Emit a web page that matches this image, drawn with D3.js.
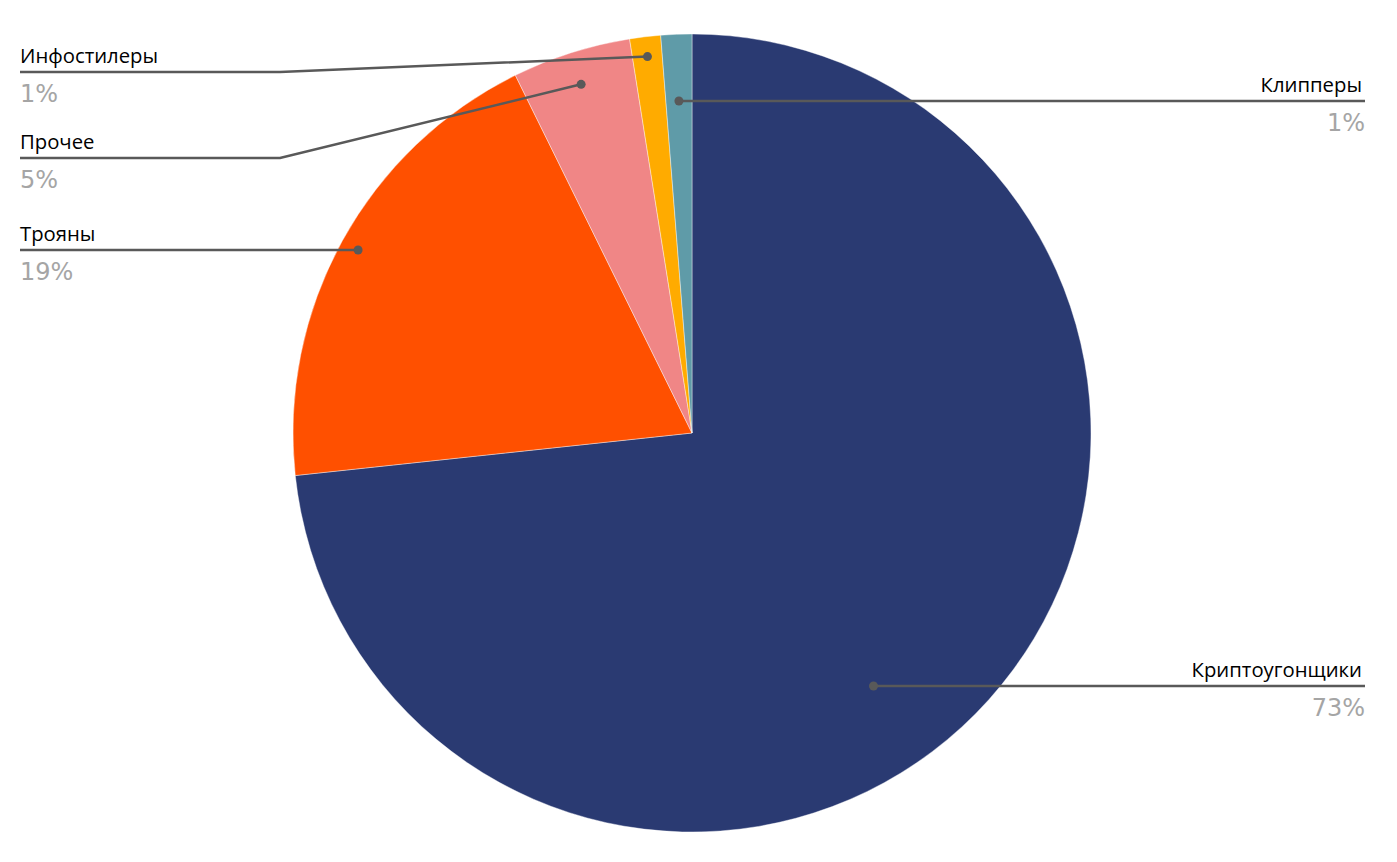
<!DOCTYPE html>
<html><head><meta charset="utf-8">
<script src="https://cdn.jsdelivr.net/npm/d3@7"></script>
<style>body{margin:0;background:#fff}svg{display:block}</style>
</head><body><svg id="c" width="1397" height="862"></svg>
<script>
const categories = ["Криптоугонщики","Трояны","Прочее","Инфостилеры","Клипперы"];
const values = [73.3, 19.4, 4.8, 1.25, 1.25];
const colors = ["#2a3a72","#ff5000","#f08686","#ffab00","#5f9ba8"];
// label layout: side, line y, elbow x, dot radius fraction, dot angle fraction within slice
const labelSide = ["right","left","left","left","right"];
const labelLineY = [686, 250, 158, 72, 101];
const labelElbowX = [null, null, 280, 280, null];
const dotRFrac = [0.0, 0.955, 0.917, 0.95, 0.835];
const dotAngFrac = [0.547, 0.5, 0.5, 0.5, 0.5];

const svg = d3.select("#c");
const cx = 692, cy = 433, R = 399;
const g = svg.append("g").attr("transform", `translate(${cx},${cy})`);
const total = d3.sum(values);
const pie = d3.pie().sort(null).value(d => d.v);
const data = categories.map((c,i)=>({c, v: values[i], i}));
const arcs = pie(data);
const arc = d3.arc().innerRadius(0).outerRadius(R);
g.selectAll("path").data(arcs).join("path")
  .attr("d", arc).attr("fill", d => colors[d.data.i])
  .attr("stroke", "#fff").attr("stroke-width", 0.4);

const lineColor = "#595959";
const leftX = 20, rightX = 1365;
arcs.forEach((a, i) => {
  const ang = a.startAngle + (a.endAngle - a.startAngle) * dotAngFrac[i];
  let dx, dy;
  const ly = labelLineY[i];
  if (dotRFrac[i] > 0) {
    dx = cx + Math.sin(ang) * R * dotRFrac[i];
    dy = cy - Math.cos(ang) * R * dotRFrac[i];
  } else {
    const t = (ly - cy) / (-Math.cos(ang));
    dx = cx + Math.sin(ang) * t;
    dy = ly;
  }
  let pts;
  if (labelSide[i] === "left") {
    if (labelElbowX[i] != null) pts = [[leftX, ly],[labelElbowX[i], ly],[dx, dy]];
    else pts = [[leftX, ly],[dx, ly]];
  } else {
    pts = [[dx, ly],[rightX, ly]];
  }
  svg.append("path").attr("d", d3.line()(pts)).attr("fill","none")
    .attr("stroke", lineColor).attr("stroke-width", 2.5);
  svg.append("circle").attr("cx", dx).attr("cy", labelElbowX[i]!=null ? dy : ly).attr("r", 4.5).attr("fill", lineColor);
  const tx = labelSide[i] === "left" ? leftX : rightX - 3;
  const anchor = labelSide[i] === "left" ? "start" : "end";
  svg.append("text").attr("x", tx).attr("y", ly - 9).attr("text-anchor", anchor)
    .attr("font-family", "'Open Sans', 'Noto Sans', sans-serif").attr("font-size", 20.3)
    .attr("fill", "#000").text(categories[i]);
  svg.append("text").attr("x", labelSide[i] === "left" ? leftX : rightX).attr("y", ly + 30).attr("text-anchor", anchor)
    .attr("font-family", "'DejaVu Sans', sans-serif").attr("font-size", 24)
    .attr("fill", "#a5a5a5").text(Math.round(values[i] / total * 100) + "%");
});
</script></body></html>
